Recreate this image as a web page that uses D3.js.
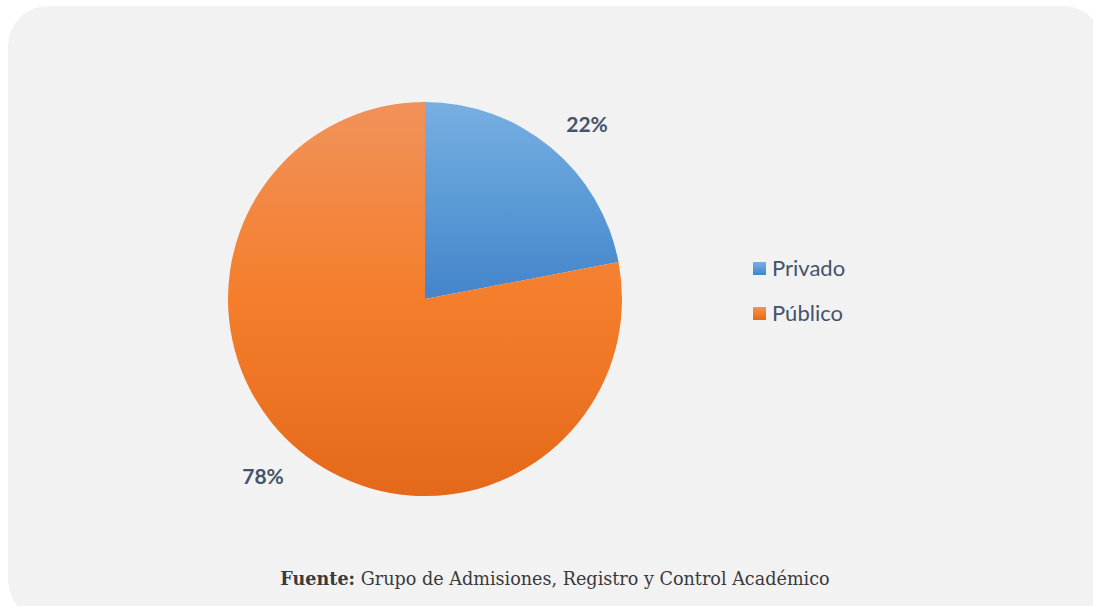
<!DOCTYPE html>
<html><head><meta charset="utf-8">
<script src="https://cdn.jsdelivr.net/npm/d3@7"></script>
<style>body{margin:0;background:#fff;}svg{display:block;}</style>
</head><body>
<svg id="c" width="1093" height="606"></svg>
<script>
const categories = ["Privado", "Público"];
const values = [22, 78];
const labels = ["22%", "78%"];
const colorsTop = ["#78afe2", "#f1925b"];
const colorsMid = ["#5b9bd5", "#f47e2b"];
const colorsBottom = ["#4384cc", "#e4691a"];
const source = ["Fuente:", " Grupo de Admisiones, Registro y Control Académico"];

const svg = d3.select("#c");
svg.append("rect").attr("x", 8).attr("y", 6).attr("width", 1095).attr("height", 614)
  .attr("rx", 40).attr("fill", "#f2f2f2");

const defs = svg.append("defs");
categories.forEach((c, i) => {
  const g = defs.append("linearGradient").attr("id", "g" + i)
    .attr("x1", 0).attr("y1", 0).attr("x2", 0).attr("y2", 1);
  g.append("stop").attr("offset", "0%").attr("stop-color", colorsTop[i]);
  g.append("stop").attr("offset", "50%").attr("stop-color", colorsMid[i]);
  g.append("stop").attr("offset", "100%").attr("stop-color", colorsBottom[i]);
});

const cx = 425, cy = 299, r = 197;
const pie = d3.pie().sort(null).value(d => d)(values);
const arc = d3.arc().innerRadius(0).outerRadius(r);
const gp = svg.append("g").attr("transform", `translate(${cx},${cy})`);
gp.selectAll("path").data(pie).join("path")
  .attr("d", arc).attr("fill", (d, i) => `url(#g${i})`);

const labelPos = [[162, -174], [-162, 178]];
gp.selectAll("text").data(pie).join("text")
  .attr("transform", (d, i) => `translate(${labelPos[i][0]},${labelPos[i][1]})`)
  .attr("text-anchor", "middle").attr("dy", "0.35em")
  .attr("font-family", "Lato, 'Open Sans', sans-serif").attr("font-weight", "bold")
  .attr("font-size", 21).attr("fill", "#44546a")
  .text((d, i) => labels[i]);

const lg = svg.append("g").attr("transform", "translate(753,262)");
categories.forEach((c, i) => {
  const row = lg.append("g").attr("transform", `translate(0,${i * 45})`);
  row.append("rect").attr("width", 13).attr("height", 13).attr("fill", `url(#g${i})`);
  row.append("text").attr("x", 19).attr("y", 6).attr("dy", "0.36em")
    .attr("font-family", "Lato, 'Open Sans', sans-serif").attr("font-size", 22)
    .attr("fill", "#44546a").text(c);
});

const t = svg.append("text").attr("x", 555).attr("y", 585).attr("text-anchor", "middle")
  .attr("font-family", "'DejaVu Serif', serif").attr("font-size", 17.6).attr("fill", "#3a3a3a");
t.append("tspan").attr("font-weight", "bold").text(source[0]);
t.append("tspan").text(source[1]);
</script>
</body></html>
